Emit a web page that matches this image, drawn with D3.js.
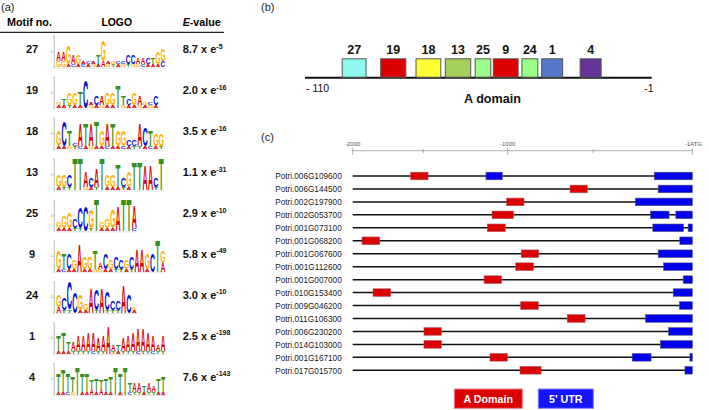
<!DOCTYPE html>
<html><head><meta charset="utf-8">
<script src="https://cdn.jsdelivr.net/npm/d3@7"></script>
<style>body{margin:0;background:#fff}svg{display:block}</style>
</head><body>
<svg id="chart" width="709" height="410"></svg>
<script>
// ---------- Panel (a) data ----------
const motifNos = ["27","19","18","13","25","9","24","1","4"];
const eMantissa = ["8.7","2.0","3.5","1.1","2.9","5.8","3.0","2.5","7.6"];
const eExponent = ["-5","-16","-16","-31","-10","-49","-10","-198","-143"];
// logo columns: letter + height (tenths of logo height), bottom to top
const logo27 = ["G2A3","G2A3","A1G6","C1A3","A1G3","C1A1","A1C1","G1A1","A1T3","A2G7","G1A1","T1G1","A1C1","G1C1","T1C3","G1C3","G1A2","C1A2","A1C2","A1T2","A1G4","C2G4"];
const logo19 = ["A1G1","A1T2","T1G4","A1G4","A1T4","C9","G1A1","A1C3","G1A3","A1G4","A1G4","T7","G1T3","A1C2","A1G4","G1A3","A1G1","G1C1","A1C3"];
const logo18 = ["A1G5","A1C8","G1T5","T1C1","C1A7","A1T7","G1A7","A1T8","A1G5","C1A7","A1T7","A1G5","C1G5","A1C2","T1C2","T1A7","A1C6","C1T5","A1G4","T1G4"];
const logo13 = ["A1G4","T1G4","T1C4","T10","T10","G1A5","A1C3","T1A6","T10","A1G4","A1G4","A1T7","T1C3","A1G5","T9","T9","A8","A8","T1C3","T10"];
const logo25 = ["A1G2","A1G4","A1G5","T1C3","T1C7","C8","T1G6","T10","A1G2","A1G3","A1G6","A8","T10","T10","C1A7"];
const logo9  = ["A1G6","C1T5","A1C5","A1G3","A9","A1G4","A1G4","G1T6","G1A2","A1C5","A1G3","T1C4","T1C3","A1G3","T1C4","A7","A7","A1G5","C6","T10","A3G4"];
const logo24 = ["A2G4","T1C4","T1C9","C7","A1G5","A1G2","A8","T1C7","A8","T1C6","T1C3","T1C3","A9","C6","A1G1"];
const logo1  = ["A1T5","A1T6","A1T3","T1A3","T1A5","T1A5","T1A6","C1A6","T1A4","T1A5","A9","T1A2","A1T2","T1A4","T1A5","T1A6","C1A7","T1A7","T1A6","C1A5","T1A2","T1A5"];
const logo4  = ["A1T6","A1T7","C1T6","G1T5","T9","A1T6","A1T6","A2T3","A1T4","A2T3","A1T4","A1T5","T9","A1T6","T9","C1T3","T1A3","T1A3","A1T2","T1A3","T1A2","A1T4","A1T5"];
const logos = [logo27, logo19, logo18, logo13, logo25, logo9, logo24, logo1, logo4];

// ---------- Panel (b) data ----------
const domainMotifs = ["27","19","18","13","25","9","24","1","4"];
const domainStart  = [-98.3,-86.2,-75.1,-65.9,-56.5,-50.8,-41.8,-35.6,-23.5];
const domainEnd    = [-90.8,-78.3,-67.3,-57.9,-51.6,-43.0,-36.8,-29.0,-16.9];
const domainTicks  = [-110, -1];
const domainTickLabels = ["- 110", "-1"];

// ---------- Panel (c) data ----------
const genes = ["Potri.006G109600","Potri.006G144500","Potri.002G197900","Potri.002G053700","Potri.001G073100","Potri.001G068200","Potri.001G067600","Potri.001G112600","Potri.001G007000","Potri.010G153400","Potri.009G046200","Potri.011G106300","Potri.006G230200","Potri.014G103000","Potri.001G167100","Potri.017G015700"];
const aDomainStart = [-1589,-636,-1006,-1093,-1121,-1934,-921,-953,-1140,-1856,-924,-652,-1496,-1496,-1105,-928];
const aDomainEnd   = [-1472,-535,-905,-967,-1014,-1809,-819,-850,-1036,-1731,-821,-548,-1393,-1393,-1002,-805];
const utrSegments = [
  [[-1129,-1032],[-193,-1]],
  [[-173,-1]],
  [[-288,-1]],
  [[-212,-118],[-84,-1]],
  [[-200,-45],[-22,-1]],
  [[-64,-1]],
  [[-173,-1]],
  [[-146,-1]],
  [[-47,-1]],
  [[-97,-1]],
  [[-66,-1]],
  [[-237,-1]],
  [[-121,-1]],
  [[-162,-1]],
  [[-304,-209],[-13,-1]],
  [[-38,-1]]
];
const promoterTicks = [-2000,-1500,-1000,-500,-1];
const promoterTickLabels = ["-2000","","-1000","","-1ATG"];
const legendLabels = ["A Domain","5' UTR"];

// ---------- drawing ----------
const svg = d3.select("#chart");
const FONT = "'Liberation Sans', Arial, Helvetica, sans-serif";
svg.append("rect").attr("width",709).attr("height",410).attr("fill","#fff");

// Panel labels
[["(a)",1,11],["(b)",261,11],["(c)",261,141]].forEach(([t,x,y])=>{
  svg.append("text").attr("x",x).attr("y",y).attr("font-family",FONT).attr("font-size",11).attr("fill","#222").text(t);
});

// ===== Panel (a) =====
const gA = svg.append("g");
gA.append("text").attr("x",29.5).attr("y",25.7).attr("text-anchor","middle").attr("font-family",FONT)
  .attr("font-weight","bold").attr("font-size",10.8).text("Motif no.");
gA.append("text").attr("x",116.7).attr("y",25.7).attr("text-anchor","middle").attr("font-family",FONT)
  .attr("font-weight","bold").attr("font-size",10.4).text("LOGO");
const ev = gA.append("text").attr("x",201.7).attr("y",25.7).attr("text-anchor","middle").attr("font-family",FONT)
  .attr("font-weight","bold").attr("font-size",10.7);
ev.append("tspan").attr("font-style","italic").text("E");
ev.append("tspan").text("-value");
gA.append("line").attr("x1",0).attr("x2",224).attr("y1",32.3).attr("y2",32.3).attr("stroke","#222").attr("stroke-width",1.3);

const yA = d3.scalePoint().domain(motifNos).range([49.3, 376.8]);

const letterColor = {A:"#d40000", C:"#0010cc", G:"#ffb000", T:"#3a8f22"};
// glyph metrics via canvas
const ctx = document.createElement("canvas").getContext("2d");
ctx.font = "bold 100px " + FONT;
const gm = {};
const fallback = {A:[0,72,72,0],C:[-4,68,74,1.2],G:[-4,73,74,1.2],T:[-2,57,72,0]};
"ACGT".split("").forEach(L=>{
  const m = ctx.measureText(L);
  let l = m.actualBoundingBoxLeft, r = m.actualBoundingBoxRight, a = m.actualBoundingBoxAscent, d = m.actualBoundingBoxDescent;
  if (!(r > 0 && a > 0)) { const f = fallback[L]; l=f[0]; r=f[1]; a=f[2]; d=f[3]; }
  gm[L] = {l, r, a, d};
});

const LOGO_X0 = 56, LOGO_MAXW = 109.5, LOGO_H = 31, UNIT = LOGO_H/10;
motifNos.forEach((m,i)=>{
  const cy = yA(m);
  gA.append("text").attr("x",32).attr("y",cy+4).attr("text-anchor","middle").attr("font-family",FONT)
    .attr("font-weight","bold").attr("font-size",11).attr("fill","#111").text(m);
  const t = gA.append("text").attr("x",182.7).attr("y",cy+4).attr("font-family",FONT)
    .attr("font-weight","bold").attr("font-size",11).attr("fill","#111");
  t.append("tspan").text(eMantissa[i] + " x e");
  t.append("tspan").attr("dy",-4.5).attr("font-size",7).text(eExponent[i]);

  // logo
  const cols = logos[i];
  const pitch = Math.min(5.4, LOGO_MAXW/cols.length);
  const base = cy + 18, top = base - LOGO_H;
  const xL = d3.scaleLinear().domain([0, cols.length]).range([LOGO_X0, LOGO_X0 + pitch*cols.length]);
  const yL = d3.scaleLinear().domain([0, 10]).range([base, top]);
  const lg = gA.append("g");
  // tiny axis
  lg.append("line").attr("x1",54.3).attr("x2",54.3).attr("y1",top).attr("y2",base).attr("stroke","#777").attr("stroke-width",0.5);
  [0,5,10].forEach(v=>lg.append("line").attr("x1",53).attr("x2",54.3).attr("y1",yL(v)).attr("y2",yL(v)).attr("stroke","#777").attr("stroke-width",0.5));
  lg.append("text").attr("x",52.5).attr("y",yL(5)+1).attr("text-anchor","end").attr("font-family",FONT).attr("font-size",3).attr("fill","#777").text("1");
  lg.append("line").attr("x1",54.3).attr("x2",xL(cols.length)).attr("y1",base+0.8).attr("y2",base+0.8).attr("stroke","#bbb").attr("stroke-width",0.4);
  cols.forEach((c,j)=>{
    let acc = 0;
    const parts = [...c.matchAll(/([ACGT])(\d+(?:\.\d+)?)/g)];
    parts.forEach(p=>{
      const L = p[1], h = +p[2];
      const yb = yL(acc), yt = yL(acc+h);
      acc += h;
      const x0 = xL(j) + 0.3, w = pitch - 0.6, hh = yb - yt - 0.15;
      const g = gm[L];
      const sx = w/(g.l+g.r), sy = hh/(g.a+g.d);
      lg.append("text").attr("font-family",FONT).attr("font-weight","bold").attr("font-size",100)
        .attr("fill",letterColor[L])
        .attr("transform",`translate(${x0 + g.l*sx},${yb - g.d*sy}) scale(${sx},${sy})`)
        .text(L);
    });
  });
});

// ===== Panel (b) =====
const gB = svg.append("g");
const xB = d3.scaleLinear().domain([-110,-1]).range([305, 651.7]);
const colorB = d3.scaleOrdinal().domain(domainMotifs)
  .range(["#8ff8f0","#dd0000","#ffff33","#a6cf5c","#99ff88","#dd0000","#99ff88","#5577cc","#663399"]);
gB.append("line").attr("x1",xB(-110)).attr("x2",xB(-1)).attr("y1",77.8).attr("y2",77.8).attr("stroke","#111").attr("stroke-width",2);
domainMotifs.forEach((m,i)=>{
  gB.append("rect").attr("x",xB(domainStart[i])).attr("width",xB(domainEnd[i])-xB(domainStart[i]))
    .attr("y",58.8).attr("height",18.4).attr("fill",colorB(m)).attr("stroke","#555").attr("stroke-width",1);
  gB.append("text").attr("x",(xB(domainStart[i])+xB(domainEnd[i]))/2).attr("y",54.3).attr("text-anchor","middle")
    .attr("font-family",FONT).attr("font-weight","bold").attr("font-size",12.5).attr("fill","#111").text(m);
});
domainTicks.forEach((v,i)=>{
  gB.append("text").attr("x", i===0 ? xB(v)+1 : xB(v)+2).attr("y",91.7)
    .attr("text-anchor", i===0 ? "start" : "end")
    .attr("font-family",FONT).attr("font-size",10.5).attr("fill","#111").text(domainTickLabels[i]);
});
gB.append("text").attr("x",492.5).attr("y",103).attr("text-anchor","middle").attr("font-family",FONT)
  .attr("font-weight","bold").attr("font-size",12.6).attr("fill","#111").text("A domain");

// ===== Panel (c) =====
const gC = svg.append("g");
const xC = d3.scaleLinear().domain(promoterTicks).range([352.7,423.3,507.7,593.3,692.3]);
const yC = d3.scalePoint().domain(genes).range([176, 370.3]);
// axis
gC.append("line").attr("x1",xC(-2000)).attr("x2",xC(-1)).attr("y1",150.7).attr("y2",150.7).attr("stroke","#999").attr("stroke-width",0.8);
promoterTicks.forEach((v,i)=>{
  const major = promoterTickLabels[i] !== "";
  gC.append("line").attr("x1",xC(v)).attr("x2",xC(v)).attr("y1",major?147.8:149).attr("y2",major?155:153.2)
    .attr("stroke","#999").attr("stroke-width",0.8);
  if (major) gC.append("text").attr("x",xC(v)+ (i===4?1:0)).attr("y",146.3).attr("text-anchor","middle")
    .attr("font-family",FONT).attr("font-size",6).attr("fill","#555").text(promoterTickLabels[i]);
});
genes.forEach((g,i)=>{
  const y = yC(g);
  gC.append("text").attr("x",341.7).attr("y",y+3.2).attr("text-anchor","end").attr("font-family",FONT)
    .attr("font-size",9).attr("fill","#1a1a1a").attr("textLength",66.5).attr("lengthAdjust","spacingAndGlyphs").text(g);
  gC.append("line").attr("x1",xC(-2000)).attr("x2",xC(-1)).attr("y1",y).attr("y2",y).attr("stroke","#111").attr("stroke-width",1.5);
  gC.append("rect").attr("x",xC(aDomainStart[i])).attr("width",xC(aDomainEnd[i])-xC(aDomainStart[i]))
    .attr("y",y-3.8).attr("height",7.6).attr("fill","#dd0000").attr("stroke","#a55").attr("stroke-width",0.6);
  utrSegments[i].forEach(s=>{
    gC.append("rect").attr("x",xC(s[0])).attr("width",Math.max(1.2, xC(s[1])-xC(s[0])))
      .attr("y",y-3.8).attr("height",7.6).attr("fill","#0000ee").attr("stroke","#557").attr("stroke-width",0.6);
  });
});
// legend
const legX = [454.3, 538.3], legW = [68, 55], legFill = ["#dd0000","#1414ff"], legStroke = ["#e98080","#8080ff"];
legendLabels.forEach((l,i)=>{
  gC.append("rect").attr("x",legX[i]).attr("y",389).attr("width",legW[i]).attr("height",19.3)
    .attr("fill",legFill[i]).attr("stroke",legStroke[i]).attr("stroke-width",1);
  gC.append("text").attr("x",legX[i]+legW[i]/2).attr("y",403.2).attr("text-anchor","middle").attr("font-family",FONT)
    .attr("font-weight","bold").attr("font-size",10.7).attr("fill","#fff").text(l);
});
</script>
</body></html>
